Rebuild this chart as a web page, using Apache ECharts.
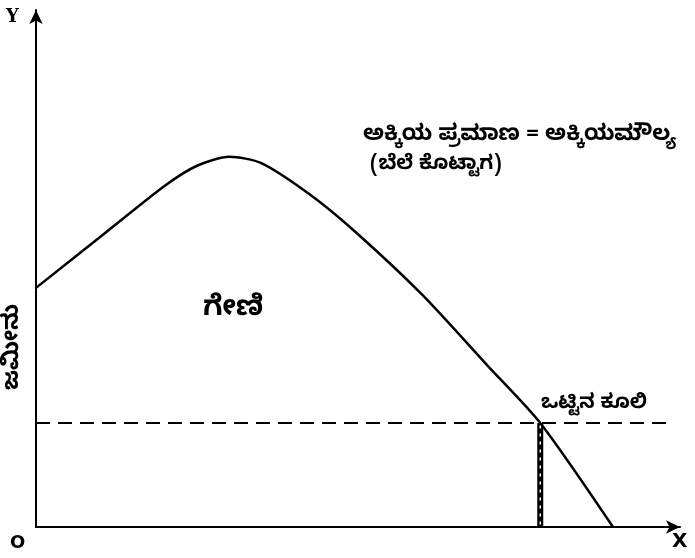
<!DOCTYPE html>
<html>
<head>
<meta charset="utf-8">
<script src="https://cdn.jsdelivr.net/npm/echarts@6/dist/echarts.min.js"></script>
<style>
    html, body { margin: 0; padding: 0; background: #fff; }
    #chart { width: 695px; height: 558px; }
</style>
</head>
<body>
<div id="chart"></div>
<script>
// ಉತ್ಪನ್ನ ರೇಖೆ (ಚಿತ್ರದಿಂದ ಓದಿದ ಅಂದಾಜು ಮೌಲ್ಯಗಳು)
const curveX = [0, 10, 20, 25, 30, 35, 43, 50, 60, 70, 78.3, 89.6];
const curveY = [37.0, 44.9, 52.8, 55.9, 57.3, 56.3, 51.1, 45.3, 35.9, 25.1, 16.1, 0];

// ಕೂಲಿ ಮಟ್ಟ
const wageLevel = 16.1;
const wageLineX = [0, 98.1];
const wageCutX = 78.3;

const xMax = 100;
const yMax = 80;

const chartDom = document.getElementById('chart');
const myChart = echarts.init(chartDom);

const curveData = curveX.map((x, i) => [x, curveY[i]]);
const kn = '"Noto Sans Kannada", "Noto Sans", sans-serif';

const option = {
    backgroundColor: '#fff',
    animation: false,
    grid: { left: 36, right: 15, top: 10, bottom: 31 },
    xAxis: {
        type: 'value',
        min: 0,
        max: xMax,
        axisLine: {
            lineStyle: { color: '#000', width: 2 },
            symbol: ['none', 'arrow'],
            symbolSize: [10, 14]
        },
        axisTick: { show: false },
        axisLabel: { show: false },
        splitLine: { show: false }
    },
    yAxis: {
        type: 'value',
        min: 0,
        max: yMax,
        axisLine: {
            lineStyle: { color: '#000', width: 2 },
            symbol: ['none', 'arrow'],
            symbolSize: [10, 14]
        },
        axisTick: { show: false },
        axisLabel: { show: false },
        splitLine: { show: false }
    },
    series: [
        {
            type: 'line',
            data: curveData,
            smooth: 0.25,
            symbol: 'none',
            lineStyle: { color: '#000', width: 2.5 }
        },
        {
            type: 'line',
            data: wageLineX.map(x => [x, wageLevel]),
            symbol: 'none',
            lineStyle: { color: '#000', width: 2, type: [14, 8] }
        },
        {
            type: 'line',
            data: [[wageCutX, 0], [wageCutX, wageLevel]],
            symbol: 'none',
            lineStyle: { color: '#000', width: 6 }
        },
        {
            type: 'line',
            data: [[wageCutX, 0.4], [wageCutX, wageLevel - 0.4]],
            symbol: 'none',
            lineStyle: { color: '#fff', width: 1.5, type: [3, 5] }
        }
    ],
    graphic: [
        { type: 'text', left: 6, top: 8, style: { text: 'Y', font: 'bold 18px "DejaVu Serif", serif', fill: '#000' } },
        { type: 'text', left: 672, top: 532, style: { text: 'X', font: 'bold 20px "DejaVu Sans", sans-serif', fill: '#000' } },
        { type: 'text', left: 10, top: 534, style: { text: 'O', font: 'bold 18px "DejaVu Sans", sans-serif', fill: '#000' } },
        {
            type: 'text', x: 16, y: 347, rotation: Math.PI / 2,
            style: { text: 'ಜಮೀನು', font: 'bold 23px ' + kn, fill: '#000', align: 'center', verticalAlign: 'middle' }
        },
        { type: 'text', x: 233, y: 312, style: { text: 'ಗೇಣಿ', font: 'bold 28px ' + kn, fill: '#000', align: 'center', verticalAlign: 'middle' } },
        { type: 'text', x: 363, y: 138, style: { text: 'ಅಕ್ಕಿಯ ಪ್ರಮಾಣ = ಅಕ್ಕಿಯಮೌಲ್ಯ', font: 'bold 22px ' + kn, fill: '#000', verticalAlign: 'middle' } },
        { type: 'text', x: 370, y: 167, style: { text: '(ಬೆಲೆ ಕೊಟ್ಟಾಗ)', font: 'bold 20px ' + kn, fill: '#000', verticalAlign: 'middle' } },
        { type: 'text', x: 541, y: 406, style: { text: 'ಒಟ್ಟಿನ ಕೂಲಿ', font: 'bold 20px ' + kn, fill: '#000', verticalAlign: 'middle' } }
    ]
};

myChart.setOption(option);

window.addEventListener('resize', () => {
    myChart.resize();
});
</script>
</body>
</html>
